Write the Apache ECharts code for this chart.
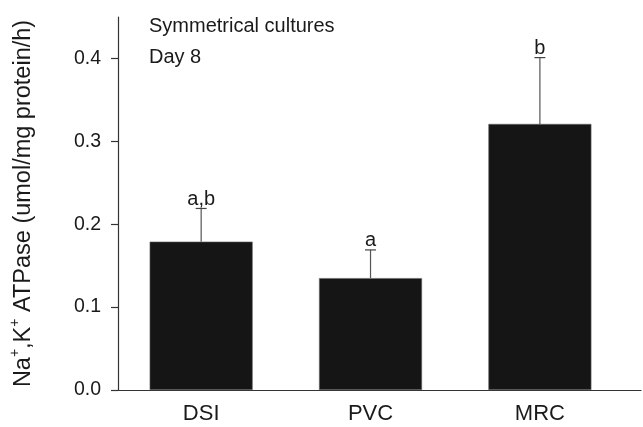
<!DOCTYPE html>
<html><head><meta charset="utf-8">
<script src="https://cdn.jsdelivr.net/npm/echarts@6/dist/echarts.min.js"></script>
<style>html,body{margin:0;padding:0;background:#fff}#c{width:643px;height:427px}</style>
</head><body><div id="c"></div>
<script>
var categories = ['DSI', 'PVC', 'MRC'];
var means = [0.179, 0.135, 0.321];
var upper = [0.219, 0.169, 0.401];
var letters = ['a,b', 'a', 'b'];
var yTicks = [0, 0.1, 0.2, 0.3, 0.4];
var xTicks = [0, 1, 2];

var font = 'Liberation Sans, Arial, Helvetica, sans-serif';
var chart = echarts.init(document.getElementById('c'), null, {renderer: 'canvas'});
var barData = categories.map(function (c, i) { return [i, means[i]]; });
var errData = categories.map(function (c, i) { return [i, means[i], upper[i], letters[i]]; });

chart.setOption({
  animation: false,
  title: {
    text: 'Symmetrical cultures\nDay 8',
    left: 144, top: 6,
    textStyle: {fontFamily: font, fontSize: 20, fontWeight: 'normal', color: '#1a1a1a', lineHeight: 31}
  },
  grid: {left: 116, right: 2, top: 17, bottom: 37},
  xAxis: {
    type: 'value', min: -0.491, max: 2.597,
    splitLine: {show: false},
    axisLine: {show: true, onZero: false, lineStyle: {color: '#333', width: 1.2}},
    axisTick: {show: false},
    axisLabel: {fontFamily: font, fontSize: 22, color: '#1a1a1a', margin: 13, customValues: xTicks,
      formatter: function (v) { return categories[Math.round(v)]; }}
  },
  yAxis: {
    type: 'value', min: 0, max: 0.45, interval: 0.1,
    splitLine: {show: false},
    axisLine: {show: true, onZero: false, lineStyle: {color: '#333', width: 1.2}},
    axisTick: {show: true, length: 7, lineStyle: {color: '#333', width: 1.2}, customValues: yTicks},
    axisLabel: {fontFamily: font, fontSize: 19.5, color: '#1a1a1a', margin: 17, customValues: yTicks,
      formatter: function (v) { return v.toFixed(1); }},
    name: '{n|Na}{s|+}{n|,K}{s|+}{n| ATPase (umol/mg protein/h)}',
    nameLocation: 'middle', nameGap: 79,
    nameTextStyle: {
      fontFamily: font, color: '#1a1a1a',
      rich: {
        n: {fontFamily: font, fontSize: 23.5, color: '#1a1a1a'},
        s: {fontFamily: font, fontSize: 14, color: '#1a1a1a', verticalAlign: 'top', padding: [0, 0, 17, 0]}
      }
    }
  },
  series: [
    {
      type: 'bar', data: barData, barWidth: 103,
      itemStyle: {color: '#151515', borderColor: '#666', borderWidth: 0.6}
    },
    {
      type: 'custom', data: errData, z: 5,
      encode: {x: 0, y: [1, 2]},
      renderItem: function (params, api) {
        var x = api.value(0);
        var p0 = api.coord([x, api.value(1)]);
        var p1 = api.coord([x, api.value(2)]);
        var hw = 5.5;
        return {
          type: 'group',
          children: [
            {type: 'line', shape: {x1: p0[0], y1: p0[1], x2: p1[0], y2: p1[1]}, style: {stroke: '#555', lineWidth: 1.2}},
            {type: 'line', shape: {x1: p1[0] - hw, y1: p1[1], x2: p1[0] + hw, y2: p1[1]}, style: {stroke: '#444', lineWidth: 1.2}},
            {type: 'text', x: p1[0], y: p1[1] + 1, style: {text: api.value(3), fontFamily: font, fontSize: 20, fill: '#1a1a1a', align: 'center', verticalAlign: 'bottom'}}
          ]
        };
      }
    }
  ]
});
</script></body></html>
